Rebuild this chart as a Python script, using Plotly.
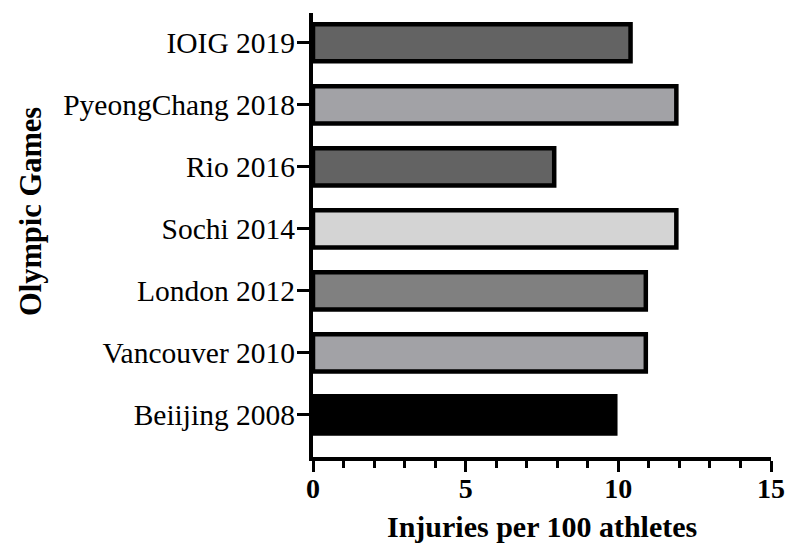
import plotly.graph_objects as go

categories = ["Beiijing 2008", "Vancouver 2010", "London 2012", "Sochi 2014",
              "Rio 2016", "PyeongChang 2018", "IOIG 2019"]
injuries = [9.9, 10.9, 10.9, 11.9, 7.9, 11.9, 10.4]
bar_colors = ["#000000", "#a2a2a6", "#808080", "#d4d4d4", "#636363", "#a2a2a6", "#636363"]
x_ticks = [0, 5, 10, 15]

FONT = "Liberation Serif"
OFF = 8  # page body margin
W, H = 799 - OFF, 543 - OFF
L, T = 313 - OFF, 13 - OFF
R, B = 28, 86
pw, ph = W - L - R, H - T - B

def px_x(x):
    return (x - OFF - L) / pw

def px_y(y):
    return (H - B - (y - OFF)) / ph

fig = go.Figure(go.Bar(
    x=injuries, y=categories, orientation="h",
    width=0.6,
    marker=dict(color=bar_colors, line=dict(color="black", width=4.5)),
))

fig.update_layout(
    width=W, height=H,
    margin=dict(l=L, r=R, t=T, b=B, autoexpand=False),
    paper_bgcolor="white", plot_bgcolor="white",
    showlegend=False,
    font=dict(family=FONT, color="black"),
    annotations=[
        dict(text="<b>Olympic Games</b>", textangle=-90,
             x=px_x(31), y=px_y(212),
             xanchor="center", yanchor="middle",
             xref="paper", yref="paper", showarrow=False,
             font=dict(family=FONT, size=30.5, color="black")),
        dict(text="<b>Injuries per 100 athletes</b>",
             x=px_x(542), y=px_y(526),
             xanchor="center", yanchor="middle",
             xref="paper", yref="paper", showarrow=False,
             font=dict(family=FONT, size=30, color="black")),
    ],
)

fig.update_xaxes(
    range=[0, 15], tickvals=x_ticks, ticktext=[f"<b>{v}</b>" for v in x_ticks],
    showline=True, linecolor="black", linewidth=4,
    ticks="outside", ticklen=11, tickwidth=3, tickcolor="black",
    minor=dict(dtick=1, ticks="outside", ticklen=7, tickwidth=3, tickcolor="black"),
    showgrid=False, zeroline=False, automargin=False,
    ticklabelstandoff=-8,
    tickfont=dict(family=FONT, size=28, color="black"),
)
fig.update_yaxes(
    categoryorder="array", categoryarray=categories,
    range=[-0.68, 6.48],
    showline=True, linecolor="black", linewidth=4,
    ticks="outside", ticklen=12, tickwidth=3, tickcolor="black",
    showgrid=False, zeroline=False, automargin=False,
    ticklabelstandoff=-4,
    tickfont=dict(family=FONT, size=29.5, color="black"),
)

fig.write_html("out.html")
